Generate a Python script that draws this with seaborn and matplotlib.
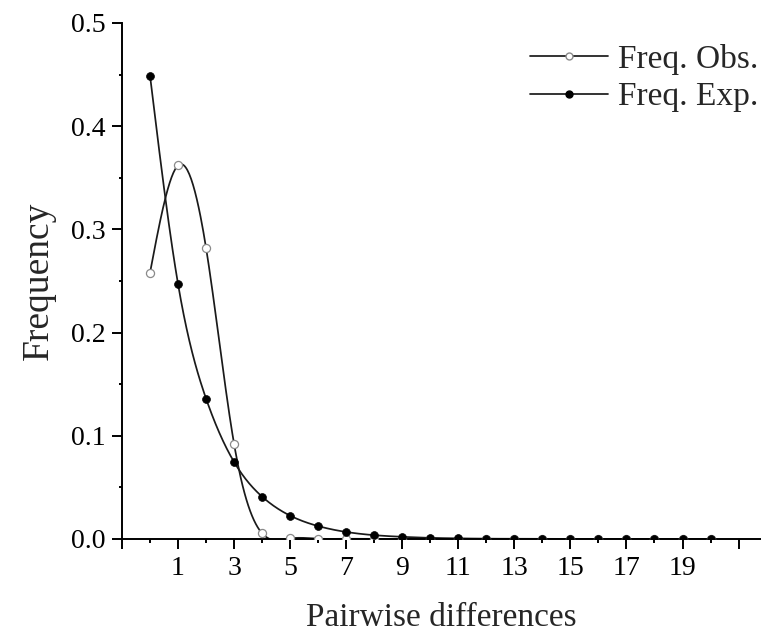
import numpy as np
import matplotlib
matplotlib.use('Agg')
import matplotlib.pyplot as plt
from matplotlib.lines import Line2D
from matplotlib.ticker import MultipleLocator, FixedLocator, FormatStrFormatter
import seaborn as sns

sns.set_theme(style='ticks')
plt.rcParams['font.family'] = ['Liberation Serif', 'DejaVu Serif']

differences = list(range(0, 21))
freq_obs = [0.258, 0.362, 0.282, 0.092, 0.0055, 0.0005, 0.0003, 0.0002, 0.0, 0.0,
            0.0, 0.0, 0.0, 0.0, 0.0, 0.0, 0.0, 0.0, 0.0, 0.0, 0.0]
freq_exp = [0.449, 0.247, 0.136, 0.0746, 0.041, 0.0226, 0.0125, 0.0068, 0.0037, 0.0021,
            0.0011, 0.0006, 0.0003, 0.0002, 0.0001, 0.00005, 0.00003, 0.00002, 0.00001,
            0.0, 0.0]
x_ticks = list(range(-1, 22, 2))
x_labels = ['', '1', '3', '5', '7', '9', '11', '13', '15', '17', '19', '']


def spline(x, y, n=600):
    # natural cubic spline, only for drawing the smooth connecting line
    x = np.asarray(x, float)
    y = np.asarray(y, float)
    k = len(x)
    h = np.diff(x)
    A = np.zeros((k, k))
    r = np.zeros(k)
    A[0, 0] = A[-1, -1] = 1
    for i in range(1, k - 1):
        A[i, i - 1] = h[i - 1]
        A[i, i] = 2 * (h[i - 1] + h[i])
        A[i, i + 1] = h[i]
        r[i] = 6 * ((y[i + 1] - y[i]) / h[i] - (y[i] - y[i - 1]) / h[i - 1])
    m = np.linalg.solve(A, r)
    xs = np.linspace(x[0], x[-1], n)
    idx = np.clip(np.searchsorted(x, xs) - 1, 0, k - 2)
    t = xs - x[idx]
    hi = h[idx]
    a = y[idx]
    b = (y[idx + 1] - y[idx]) / hi - hi * (2 * m[idx] + m[idx + 1]) / 6
    c = m[idx] / 2
    d = (m[idx + 1] - m[idx]) / (6 * hi)
    return xs, a + b * t + c * t ** 2 + d * t ** 3


fig = plt.figure(figsize=(7.61, 6.35), dpi=100)
ax = fig.add_axes([0.1603, 0.1512, 0.8397, 0.8126])

line_col = '#1a1a1a'
lw = 1.25
xs, ys = spline(differences, freq_obs)
sns.lineplot(x=xs, y=ys, ax=ax, color=line_col, linewidth=lw, sort=False)
xs, ys = spline(differences, freq_exp)
sns.lineplot(x=xs, y=ys, ax=ax, color=line_col, linewidth=lw, sort=False)

sns.scatterplot(x=differences, y=freq_obs, ax=ax, s=34, color='white',
                edgecolor='#8a8a8a', linewidth=0.9, zorder=3)
sns.scatterplot(x=differences, y=freq_exp, ax=ax, s=32, color='black',
                edgecolor='black', linewidth=0.5, zorder=3)

ax.set_xlim(-1, 21.8)
ax.set_ylim(0, 0.5)
ax.set_xticks(x_ticks)
ax.set_xticklabels(x_labels)
ax.xaxis.set_minor_locator(FixedLocator(list(range(0, 21, 2))))
ax.yaxis.set_major_locator(MultipleLocator(0.1))
ax.yaxis.set_minor_locator(MultipleLocator(0.05))
ax.yaxis.set_major_formatter(FormatStrFormatter('%.1f'))

sns.despine(ax=ax)
for s in ['left', 'bottom']:
    ax.spines[s].set_linewidth(1.4)
    ax.spines[s].set_color('black')
ax.tick_params(which='major', length=7, width=1.4, labelsize=20, colors='black', pad=5)
ax.tick_params(axis='x', which='minor', length=3, width=1.4, colors='black')
ax.tick_params(axis='y', which='minor', length=2, width=1.4, colors='black')

ax.set_xlabel('Pairwise differences', fontsize=24, labelpad=16)
ax.set_ylabel('Frequency', fontsize=27, labelpad=11)

handles = [
    Line2D([], [], color=line_col, linewidth=lw, marker='o', markersize=5,
           markerfacecolor='white', markeredgecolor='#8a8a8a'),
    Line2D([], [], color=line_col, linewidth=lw, marker='o', markersize=5,
           markerfacecolor='black', markeredgecolor='black'),
]
ax.legend(handles, ['Freq. Obs.', 'Freq. Exp.'], loc='upper right', frameon=False,
          fontsize=24, handlelength=2.35, handletextpad=0.3, labelspacing=0.2,
          bbox_to_anchor=(1.017, 0.985), borderaxespad=0.0)

fig.savefig('out.png', dpi=100)
